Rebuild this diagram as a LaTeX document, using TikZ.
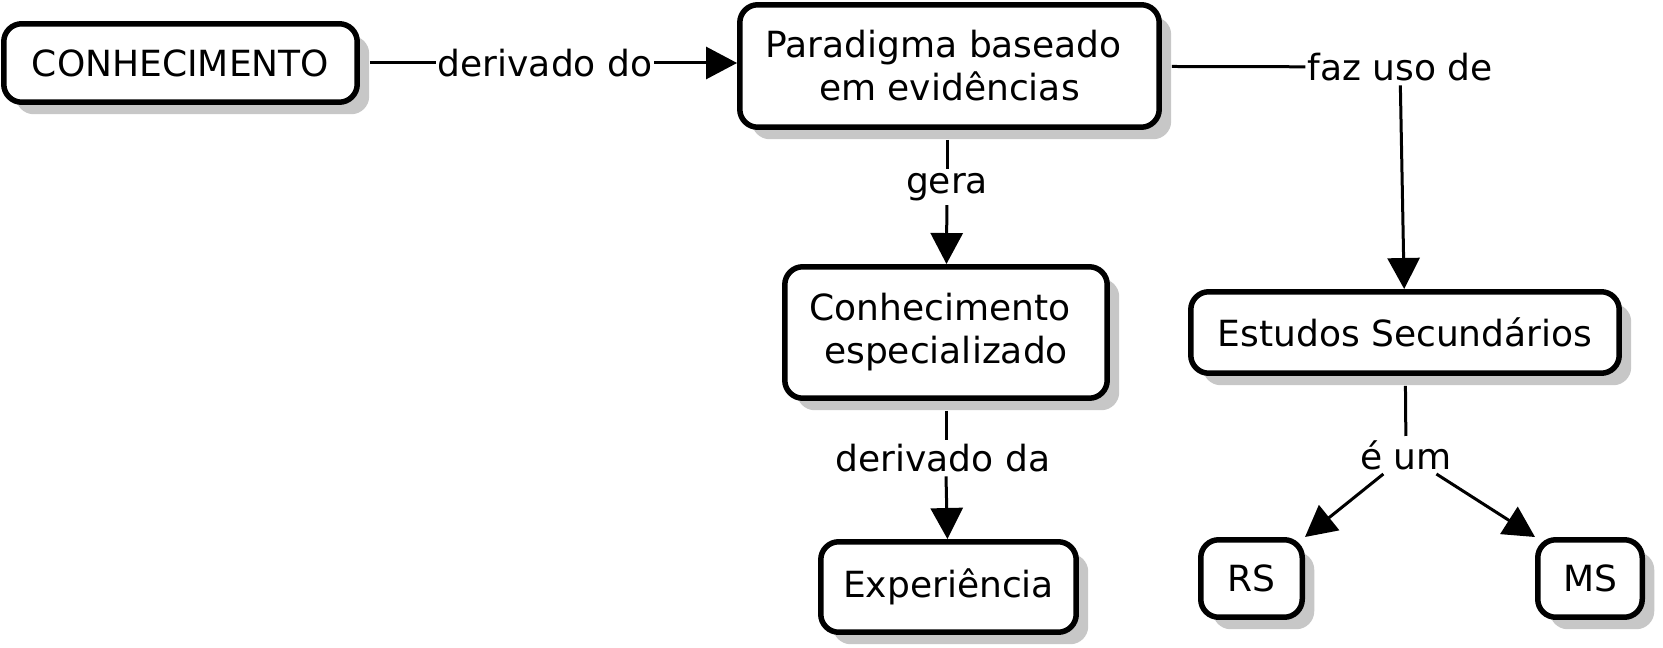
\documentclass[tikz,border=0pt]{standalone}
\usepackage{fontspec}
\setmainfont{DejaVu Sans}
\usetikzlibrary{arrows.meta,shadows}

\begin{document}
\begin{tikzpicture}[x=0.02cm,y=-0.02cm,
        font=\fontsize{20.5pt}{24.5pt}\selectfont,
        concept/.style={draw,fill=white,line width=0.11cm,rounded corners=0.36cm,
            align=center,inner sep=0pt,
            drop shadow={shadow xshift=0.24cm,shadow yshift=-0.24cm,fill=black!22,opacity=1}},
        linkword/.style={inner xsep=1pt,inner ysep=0.08cm},
        link/.style={line width=0.06cm,shorten <=0.2cm},
        arrowlink/.style={line width=0.06cm,-{Triangle[length=0.62cm,width=0.64cm]}}]
            \useasboundingbox (0,0) rectangle (1663,648);

            % Draw the concepts
            \node[concept,minimum width=7.07cm,minimum height=1.57cm] (know) at (180.5,63) {CONHECIMENTO};
            \node[concept,minimum width=8.39cm,minimum height=2.45cm] (paradigm) at (949.5,66) {Paradigma baseado\hspace*{0.32em}\\em evidências};
            \node[concept,minimum width=6.45cm,minimum height=2.63cm] (expert) at (946,332.5) {Conhecimento\hspace*{0.32em}\\especializado};
            \node[concept,minimum width=5.11cm,minimum height=1.81cm] (exper) at (948.5,587) {Experiência};
            \node[concept,minimum width=8.57cm,minimum height=1.63cm] (second) at (1405,332.5) {Estudos Secundários};
            \node[concept,minimum width=2.03cm,minimum height=1.55cm] (rs) at (1251.5,578.5) {RS};
            \node[concept,minimum width=2.09cm,minimum height=1.55cm] (ms) at (1590,578.5) {MS};

            % Linking words
            \node[linkword] (derdo) at (545,63) {derivado do};
            \node[linkword] (faz) at (1400,67) {faz uso de};
            \node[linkword] (gera) at (947,187) {gera};
            \node[linkword] (derda) at (943,458) {derivado da};
            \node[linkword] (eum) at (1406,455) {é um};

            % Connect them
            \draw[link] (know) -- (derdo);
            \draw[arrowlink] (derdo) -- (derdo -| paradigm.west);
            \draw[link] (paradigm) -- (faz);
            \draw[arrowlink] (faz) -- (second);
            \draw[link] (paradigm.south -| gera) -- (gera);
            \draw[arrowlink] (gera) -- (expert);
            \draw[link] (expert) -- (expert.south |- derda.north);
            \draw[arrowlink] (expert.south |- derda.south) -- (exper);
            \draw[link] (second) -- (eum);
            \draw[arrowlink] (eum.-140) -- (rs.north east);
            \draw[arrowlink] (eum.-32) -- (ms.north west);
\end{tikzpicture}
\end{document}
